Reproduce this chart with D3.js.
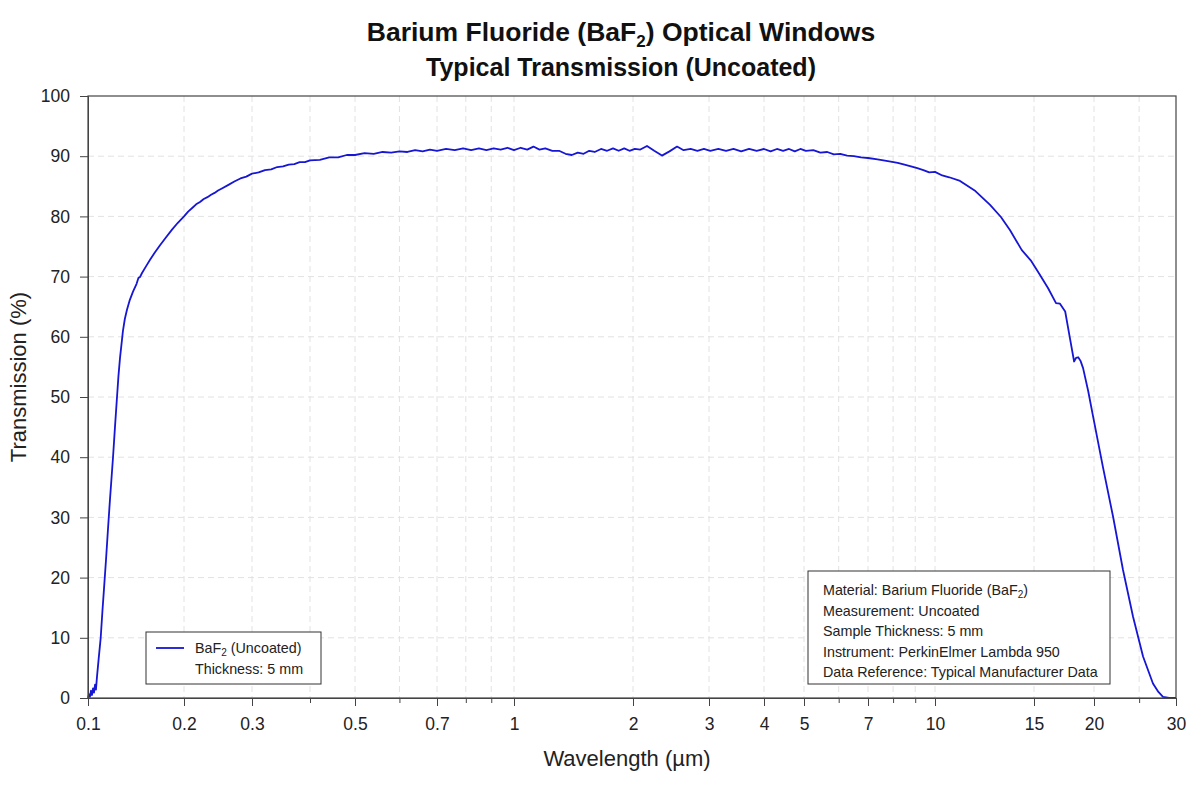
<!DOCTYPE html>
<html lang="en">
<head>
<meta charset="utf-8">
<title>BaF2 Transmission</title>
<script src="https://cdn.jsdelivr.net/npm/d3@7"></script>
<style>
  body { margin: 0; background: #fff; }
  svg { font-family: "Liberation Sans", Arial, sans-serif; }
</style>
</head>
<body>
<div id="chart"></div>
<script>
// wavelength (um) and transmission (%)
var wavelength = [
  0.100, 0.1007, 0.1014, 0.1022, 0.1029, 0.1037, 0.1044, 0.1052, 0.1059, 0.1067,
  0.1080, 0.1096, 0.1110, 0.1122, 0.1139, 0.1155, 0.1172, 0.1185, 0.1198, 0.1215,
  0.1233, 0.1246, 0.1260, 0.1275, 0.1287, 0.1305, 0.1325, 0.1350, 0.1384, 0.1420,
  0.1440, 0.1455, 0.1477, 0.1520, 0.1565, 0.1620, 0.1682, 0.1750, 0.1834, 0.1910,
  0.200, 0.205, 0.210, 0.215, 0.220, 0.225, 0.230, 0.235, 0.240, 0.245,
  0.250, 0.260, 0.270, 0.280, 0.290, 0.300, 0.310, 0.320, 0.330, 0.340,
  0.350, 0.360, 0.370, 0.380, 0.390, 0.400, 0.420, 0.440, 0.460, 0.480,
  0.500, 0.520, 0.540, 0.560, 0.580, 0.600, 0.620, 0.640, 0.660, 0.680,
  0.700, 0.730, 0.760, 0.790, 0.820, 0.850, 0.880, 0.910, 0.940, 0.970,
  1.00, 1.04, 1.08, 1.12, 1.16, 1.20, 1.25, 1.30, 1.35, 1.40,
  1.45, 1.50, 1.55, 1.60, 1.66, 1.72, 1.78, 1.84, 1.90, 1.96,
  2.02, 2.08, 2.155, 2.24, 2.334, 2.43, 2.53, 2.62, 2.72, 2.82,
  2.92, 3.02, 3.15, 3.28, 3.41, 3.55, 3.70, 3.85, 4.00, 4.15,
  4.30, 4.45, 4.60, 4.75, 4.90, 5.05, 5.25, 5.45, 5.65, 5.85,
  6.05, 6.27, 6.50, 6.75, 7.00, 7.30, 7.60, 7.90, 8.20, 8.50,
  8.80, 9.10, 9.40, 9.70, 10.0, 10.3, 10.6, 11.08, 11.8, 12.53,
  13.1, 13.6, 14.27, 14.8, 15.29, 16.04, 16.67, 16.99, 17.42, 17.8,
  18.18, 18.35, 18.54, 18.75, 18.98, 19.45, 19.92, 20.9, 21.98, 23.08,
  24.26, 25.49, 26.77, 27.5, 28.13, 29.0, 30.0
];
var transmission = [
  0.0, 0.6, 0.2, 1.2, 0.5, 1.6, 0.9, 2.2, 1.4, 3.5,
  6.5, 10.0, 14.5, 18.0, 23.0, 28.0, 33.0, 36.5, 40.0, 45.0,
  50.0, 53.5, 56.5, 59.0, 61.0, 63.0, 64.5, 66.0, 67.5, 68.8,
  69.8, 69.9, 70.6, 71.7, 72.8, 74.0, 75.2, 76.4, 77.8, 78.9,
  80.0, 80.8, 81.4, 82.0, 82.4, 82.9, 83.2, 83.6, 83.9, 84.3,
  84.6, 85.2, 85.8, 86.3, 86.6, 87.1, 87.3, 87.7, 87.8, 88.2,
  88.3, 88.6, 88.7, 89.0, 89.0, 89.3, 89.4, 89.8, 89.8, 90.2,
  90.2, 90.5, 90.4, 90.7, 90.6, 90.8, 90.7, 91.0, 90.8, 91.1,
  90.9, 91.2, 91.0, 91.3, 91.0, 91.3, 91.0, 91.3, 91.1, 91.4,
  91.0, 91.4, 91.1, 91.6, 91.1, 91.3, 90.9, 90.9, 90.4, 90.2,
  90.6, 90.4, 90.9, 90.7, 91.2, 90.9, 91.3, 90.9, 91.3, 90.9,
  91.2, 91.1, 91.7, 90.9, 90.1, 90.8, 91.6, 91.0, 91.2, 90.9,
  91.2, 90.9, 91.2, 90.9, 91.2, 90.8, 91.2, 90.9, 91.2, 90.8,
  91.2, 90.9, 91.2, 90.8, 91.2, 90.9, 91.0, 90.6, 90.7, 90.3,
  90.4, 90.1, 90.0, 89.8, 89.7, 89.5, 89.3, 89.1, 88.9, 88.6,
  88.3, 88.0, 87.7, 87.3, 87.4, 86.8, 86.5, 85.9, 84.2, 81.9,
  79.9, 77.7, 74.4, 72.7, 70.8, 68.1, 65.6, 65.5, 64.2, 60.0,
  55.9, 56.5, 56.6, 56.0, 54.8, 51.0, 46.7, 38.4, 30.1, 21.3,
  13.5, 6.9, 2.4, 1.0, 0.2, 0.0, 0.0
];

var xMajorTicks = [0.1, 0.2, 0.3, 0.5, 0.7, 1, 2, 3, 4, 5, 7, 10, 15, 20, 30];
var xMinorTicks = [0.4, 0.6, 0.8, 0.9, 6, 8, 9, 25];
var yTicks = [0, 10, 20, 30, 40, 50, 60, 70, 80, 90, 100];

var infoLines = [
  ["Material: Barium Fluoride (BaF", "2", ")"],
  ["Measurement: Uncoated"],
  ["Sample Thickness: 5 mm"],
  ["Instrument: PerkinElmer Lambda 950"],
  ["Data Reference: Typical Manufacturer Data"]
];

var width = 1200, height = 800;
var plotLeft = 88, plotRight = 1176, plotTop = 96, plotBottom = 698;

var svg = d3.select("#chart").append("svg")
  .attr("width", width).attr("height", height);

svg.append("rect").attr("width", width).attr("height", height).attr("fill", "#fff");

// the reference axis is log-spaced per segment, not one clean log scale
var x = d3.scaleLog()
  .domain([0.1, 0.2, 0.3, 0.5, 0.7, 1, 2, 3, 4, 5, 7, 10, 15, 20, 30])
  .range([88, 184, 252, 355, 437, 514, 633, 709, 764, 804, 868, 935, 1034, 1094, 1176]);

var y = d3.scaleLinear().domain([0, 100]).range([plotBottom, plotTop]);

// grid
var allX = xMajorTicks.concat(xMinorTicks).filter(function(d){ return d > 0.1 && d < 30 });
svg.append("g").selectAll("line")
  .data(allX)
  .enter()
  .append("line")
  .attr("x1", function(d){ return x(d) })
  .attr("x2", function(d){ return x(d) })
  .attr("y1", plotTop).attr("y2", plotBottom)
  .attr("stroke", "#e2e2e2").attr("stroke-dasharray", "6,4");

svg.append("g").selectAll("line")
  .data(yTicks.filter(function(d){ return d > 0 && d < 100 }))
  .enter()
  .append("line")
  .attr("x1", plotLeft).attr("x2", plotRight)
  .attr("y1", function(d){ return y(d) })
  .attr("y2", function(d){ return y(d) })
  .attr("stroke", "#e2e2e2").attr("stroke-dasharray", "6,4");

// curve
var points = wavelength.map(function(w, i){ return { w: w, t: transmission[i] } });
var line = d3.line()
  .x(function(d){ return x(d.w) })
  .y(function(d){ return y(d.t) });

svg.append("path")
  .datum(points)
  .attr("d", line)
  .attr("fill", "none")
  .attr("stroke", "#1616d4")
  .attr("stroke-width", 1.8)
  .attr("stroke-linejoin", "round");

// frame
svg.append("rect")
  .attr("x", plotLeft).attr("y", plotTop)
  .attr("width", plotRight - plotLeft).attr("height", plotBottom - plotTop)
  .attr("fill", "none").attr("stroke", "#444").attr("stroke-width", 1.2);

// axes
var xAxis = svg.append("g")
  .attr("transform", "translate(0," + plotBottom + ")")
  .call(d3.axisBottom(x).tickValues(xMajorTicks).tickSize(8).tickPadding(12)
    .tickFormat(function(d){ return String(d) }));
xAxis.select(".domain").attr("stroke", "#444");
xAxis.selectAll(".tick line").attr("stroke", "#444");
xAxis.selectAll("text").attr("font-size", 17.5).attr("fill", "#222")
  .attr("font-family", "Liberation Sans, Arial, sans-serif");

var xMinor = svg.append("g")
  .attr("transform", "translate(0," + plotBottom + ")")
  .call(d3.axisBottom(x).tickValues(xMinorTicks).tickSize(5).tickFormat(""));
xMinor.select(".domain").remove();
xMinor.selectAll(".tick line").attr("stroke", "#444");

var yAxis = svg.append("g")
  .attr("transform", "translate(" + plotLeft + ",0)")
  .call(d3.axisLeft(y).tickValues(yTicks).tickSize(8).tickPadding(10));
yAxis.select(".domain").attr("stroke", "#444");
yAxis.selectAll(".tick line").attr("stroke", "#444");
yAxis.selectAll("text").attr("font-size", 17.5).attr("fill", "#222")
  .attr("font-family", "Liberation Sans, Arial, sans-serif");

// titles
var t1 = svg.append("text")
  .attr("x", 621).attr("y", 41)
  .attr("text-anchor", "middle")
  .attr("font-size", 26.5).attr("font-weight", "bold").attr("fill", "#111");
t1.append("tspan").text("Barium Fluoride (BaF");
t1.append("tspan").text("2").attr("font-size", 17).attr("dy", 6);
t1.append("tspan").text(") Optical Windows").attr("dy", -6);

svg.append("text")
  .attr("x", 621).attr("y", 76)
  .attr("text-anchor", "middle")
  .attr("font-size", 25).attr("font-weight", "bold").attr("fill", "#111")
  .text("Typical Transmission (Uncoated)");

svg.append("text")
  .attr("x", 627).attr("y", 766)
  .attr("text-anchor", "middle")
  .attr("font-size", 22).attr("fill", "#222")
  .text("Wavelength (\u00b5m)");

svg.append("text")
  .attr("transform", "translate(26," + ((plotTop + plotBottom) / 2 - 20) + ") rotate(-90)")
  .attr("text-anchor", "middle")
  .attr("font-size", 22).attr("fill", "#222")
  .text("Transmission (%)");

// legend
var legend = svg.append("g");
legend.append("rect")
  .attr("x", 146).attr("y", 632).attr("width", 175).attr("height", 52)
  .attr("fill", "#fff").attr("stroke", "#333");
legend.append("line")
  .attr("x1", 156).attr("x2", 184).attr("y1", 648).attr("y2", 648)
  .attr("stroke", "#1616d4").attr("stroke-width", 1.8);
var lt = legend.append("text").attr("x", 195).attr("y", 653)
  .attr("font-size", 14.3).attr("fill", "#222");
lt.append("tspan").text("BaF");
lt.append("tspan").text("2").attr("font-size", 10).attr("dy", 3);
lt.append("tspan").text(" (Uncoated)").attr("dy", -3);
legend.append("text").attr("x", 195).attr("y", 674)
  .attr("font-size", 14.3).attr("fill", "#222")
  .text("Thickness: 5 mm");

// info box
var info = svg.append("g");
info.append("rect")
  .attr("x", 808).attr("y", 571).attr("width", 302).attr("height", 113)
  .attr("fill", "#fff").attr("stroke", "#333");
info.selectAll("text")
  .data(infoLines)
  .enter()
  .append("text")
  .attr("x", 823)
  .attr("y", function(d, i){ return 595 + i * 20.5 })
  .attr("font-size", 14.3).attr("fill", "#222")
  .each(function(d){
    var el = d3.select(this);
    el.append("tspan").text(d[0]);
    if (d.length > 1) {
      el.append("tspan").text(d[1]).attr("font-size", 10).attr("dy", 3);
      el.append("tspan").text(d[2]).attr("dy", -3);
    }
  });
</script>
</body>
</html>
